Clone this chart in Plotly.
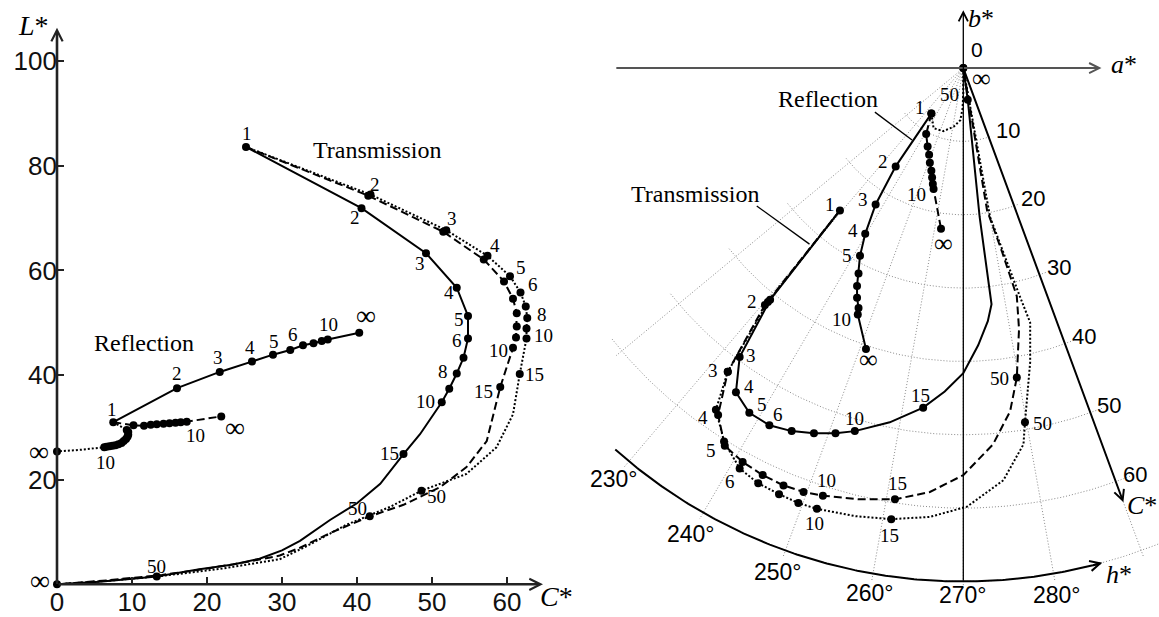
import numpy as np
import plotly.graph_objects as go

W, H = 1159, 617

# ================= LEFT PANEL DATA  (C*, L*) =================
# Transmission, solid
trans_solid_C = [25.2, 40.6, 49.2, 53.3, 54.8, 54.8, 54.2, 53.3, 52.3, 51.3, 48.4, 46.2, 43.1, 40.0, 36.4, 32.4,
                 30.0, 27.0, 23.5, 19.0, 13.3, 5.7, 0.0]
trans_solid_L = [83.6, 71.9, 63.3, 56.7, 51.3, 47.0, 43.3, 40.3, 37.4, 34.8, 28.7, 24.9, 19.2, 15.5, 12.3, 8.3,
                 6.5, 4.9, 3.8, 2.9, 1.5, 0.5, 0.0]
trans_solid_marks = [0, 1, 2, 3, 4, 5, 6, 7, 8, 9, 11, 20, 22]
# Transmission, dashed
trans_dash_C = [25.2, 41.5, 51.5, 56.9, 59.6, 60.8, 61.3, 61.3, 61.2, 60.8, 59.1, 57.3, 54.6, 51.1, 46.2, 41.7,
                36.4, 32.4, 29.7, 25.0, 20.0, 14.0, 7.0, 0.0]
trans_dash_L = [83.6, 74.3, 67.4, 62.1, 57.9, 54.6, 51.8, 49.3, 47.2, 45.2, 37.7, 27.4, 22.4, 18.6, 15.2, 13.0,
                9.8, 7.0, 5.5, 4.2, 3.0, 1.8, 0.8, 0.0]
trans_dash_marks = [1, 2, 3, 4, 5, 6, 7, 8, 9, 10, 15]
# Transmission, dotted
trans_dot_C = [25.2, 41.8, 51.9, 57.4, 60.4, 61.8, 62.5, 62.7, 62.6, 62.6, 61.7, 60.8, 58.6, 54.6, 48.6, 44.4,
               38.6, 33.3, 29.7, 22.0, 14.0, 7.0, 0.0]
trans_dot_L = [83.6, 74.5, 67.7, 62.8, 58.9, 55.8, 53.1, 50.9, 48.9, 47.0, 40.2, 32.5, 26.2, 21.1, 17.9, 14.8,
               11.4, 7.3, 4.8, 3.0, 1.6, 0.7, 0.0]
trans_dot_marks = [1, 2, 3, 4, 5, 6, 7, 8, 9, 10, 14]

# Reflection
refl_solid_C = [7.5, 16.0, 21.7, 26.0, 28.8, 31.1, 32.8, 34.2, 35.3, 36.1, 40.3]
refl_solid_L = [31.0, 37.5, 40.6, 42.6, 43.9, 44.8, 45.7, 46.1, 46.5, 46.8, 48.1]
refl_dash_C = [7.5, 10.2, 11.6, 12.5, 13.3, 14.2, 15.0, 15.8, 16.5, 17.3, 21.9]
refl_dash_L = [31.0, 30.4, 30.3, 30.5, 30.6, 30.7, 30.8, 30.9, 31.0, 31.1, 32.1]
refl_dot_C = [7.5, 9.3, 9.5, 9.5, 9.4, 9.2, 8.9, 8.6, 8.2, 7.8, 7.4, 7.0, 6.6, 6.3, 3.0, 0.0]
refl_dot_L = [31.0, 29.5, 29.1, 28.6, 28.2, 27.8, 27.4, 27.0, 26.8, 26.6, 26.5, 26.4, 26.3, 26.2, 25.7, 25.4]
refl_dot_marks = [1, 2, 3, 4, 5, 6, 7, 8, 9, 10, 11, 12, 13, 15]

left_xticks = [0, 10, 20, 30, 40, 50, 60]
left_yticks = [20, 40, 60, 80, 100]

# point labels (text, C*, L*)
left_num_labels = [
    ("1", 25.3, 86.2), ("2", 39.7, 70.2), ("3", 48.4, 61.4), ("4", 52.2, 55.7), ("5", 53.6, 50.7),
    ("6", 53.3, 46.6), ("8", 51.5, 40.6), ("10", 49.1, 35.0), ("15", 44.3, 25.1), ("50", 13.3, 3.5),
    ("2", 42.4, 76.5), ("3", 52.6, 69.9), ("4", 58.4, 64.8), ("5", 61.8, 60.6), ("6", 63.5, 57.3),
    ("8", 64.6, 51.5), ("10", 64.8, 47.5), ("10", 58.8, 44.7), ("15", 56.9, 36.8), ("15", 63.7, 40.1),
    ("50", 40.0, 14.5), ("50", 50.6, 16.7),
    ("1", 7.3, 33.4), ("2", 16.0, 40.3), ("3", 21.5, 43.3), ("4", 25.7, 45.3), ("5", 28.9, 46.4),
    ("6", 31.5, 47.7), ("10", 36.2, 49.6), ("10", 18.4, 28.4), ("10", 6.5, 23.2),
]
left_inf_labels = [(-2.3, 0.7), (41.2, 51.3), (23.7, 29.9), (-2.4, 25.4)]
left_text_labels = [("Transmission", 42.6, 83.1), ("Reflection", 11.6, 46.2)]

# ================= RIGHT PANEL DATA  (a*, b*) =================
rt_solid_a = [-16.6, -26.0, -30.1, -30.6, -28.8, -26.1, -23.1, -20.1, -17.2, -14.6, -9.9, -5.4, -2.5, 0.0,
              2.0, 3.3, 3.8, 2.2, 0.6, 0.0]
rt_solid_b = [-19.4, -31.6, -39.4, -44.2, -47.0, -48.7, -49.5, -49.8, -49.8, -49.5, -48.3, -46.3, -44.1, -41.6,
              -37.8, -34.5, -32.2, -20.3, -4.3, 0.0]
rt_solid_marks = [0, 1, 2, 3, 4, 5, 6, 7, 8, 9, 11, 18, 19]
rt_dash_a = [-16.6, -26.7, -31.7, -33.0, -32.1, -29.7, -27.0, -24.2, -21.5, -18.9, -14.0, -9.2, -4.5, 0.0,
             4.0, 6.3, 7.2, 7.5, 7.2, 5.2, 3.2, 0.7, 0.0]
rt_dash_b = [-19.4, -32.3, -41.4, -47.3, -51.5, -53.7, -55.5, -56.9, -57.8, -58.3, -58.8, -58.8, -57.8, -55.5,
             -51.3, -46.8, -42.2, -35.6, -31.1, -25.0, -19.4, -4.4, 0.0]
rt_dash_marks = [1, 2, 3, 4, 5, 6, 7, 8, 9, 11, 16]
rt_dot_a = [-16.6, -26.3, -31.7, -33.3, -32.2, -30.1, -27.6, -24.8, -22.2, -19.7, -14.5, -9.7, -4.5, 0.5,
            5.4, 8.1, 8.3, 9.0, 9.0, 7.6, 3.6, 0.7, 0.0]
rt_dot_b = [-19.4, -31.9, -41.4, -46.6, -50.9, -54.6, -56.6, -58.1, -59.3, -60.1, -61.1, -61.5, -61.2, -59.8,
            -56.2, -51.3, -48.3, -40.1, -34.7, -31.1, -20.3, -4.4, 0.0]
rt_dot_marks = [1, 2, 3, 4, 5, 6, 7, 8, 9, 11, 16]

rr_solid_a = [-4.3, -9.1, -11.8, -13.2, -13.9, -14.1, -14.3, -14.3, -14.1, -14.2, -13.1]
rr_solid_b = [-6.2, -13.4, -18.6, -22.6, -25.6, -28.0, -29.7, -31.3, -32.7, -33.6, -38.3]
rr_dash_a = [-4.3, -5.0, -4.8, -4.6, -4.5, -4.3, -4.2, -4.1, -4.0, -3.0]
rr_dash_b = [-6.2, -9.0, -10.7, -11.8, -12.9, -14.0, -14.9, -15.8, -16.5, -21.9]
rr_dot_a = [-4.3, -4.0, -2.7, -1.3, -0.4, -0.1, 0.0, 0.0]
rr_dot_b = [-6.2, -8.2, -8.6, -8.0, -7.1, -5.5, -3.3, 0.0]
rr_dot_marks = [0, 7]

# polar grid definition
grid_hues = [220, 230, 240, 250, 260, 270, 280, 290]
grid_hue_cmax = [61, 71, 71, 71, 71, 71, 71, 71]
grid_chromas = [10, 20, 30, 40, 50, 60, 70]
grid_arc_h0 = [218, 218, 218, 218, 218, 218, 229]
grid_arc_h1 = [292, 292, 292, 292, 292, 292, 292]
hue_labels = [230, 240, 250, 260, 270, 280]
hue_label_radius = [73.1, 73.4, 73.1, 72.7, 71.9, 73.0]
chroma_labels = [10, 20, 30, 40, 50, 60]

right_num_labels = [
    ("1", -18.0, -18.6), ("2", -28.5, -31.8), ("3", -28.6, -39.2), ("4", -28.9, -43.4), ("5", -27.1, -45.9),
    ("6", -25.0, -47.2), ("10", -14.7, -47.8), ("15", -5.8, -44.6), ("50", -1.8, -3.6),
    ("3", -33.7, -41.2), ("4", -35.0, -47.7), ("5", -34.0, -52.2), ("6", -31.4, -56.4),
    ("10", -18.4, -56.2), ("10", -20.0, -62.1), ("15", -8.8, -56.7), ("15", -9.9, -63.8),
    ("50", 4.9, -42.3), ("50", 10.7, -48.4),
    ("1", -5.8, -5.4), ("2", -10.8, -12.7), ("3", -13.5, -17.9), ("4", -14.9, -22.1), ("5", -15.7, -25.5),
    ("10", -16.4, -34.3), ("10", -6.3, -17.2),
]
right_inf_labels = [(2.4, -1.4), (-12.7, -39.7), (-2.7, -23.9)]
right_text_labels = [("Transmission", -36.1, -17.2), ("Reflection", -18.2, -4.2)]
leader_reflection = [(-11.9, -6.0), (-6.9, -9.8)]
leader_transmission = [(-27.8, -18.8), (-20.7, -24.0)]

# ================= FIGURE =================
fig = go.Figure()
SERIF = "Liberation Serif"
SANS = "Liberation Sans"
DASH = "8px,4px"
DOT = "2px,2px"


def add_curve(xs, ys, dash, xa, ya, marks=None, width=2):
    fig.add_trace(go.Scatter(x=xs, y=ys, mode="lines", xaxis=xa, yaxis=ya,
                             line=dict(color="black", width=width, dash=dash), hoverinfo="skip"))
    if marks is None:
        marks = list(range(len(xs)))
    fig.add_trace(go.Scatter(x=[xs[i] for i in marks], y=[ys[i] for i in marks], mode="markers",
                             xaxis=xa, yaxis=ya, marker=dict(color="black", size=8), hoverinfo="skip"))


# ---- right panel grid ----
gx, gy = [], []
for h, cm in zip(grid_hues, grid_hue_cmax):
    t = np.radians(h)
    gx += [0, cm * np.cos(t), None]
    gy += [0, cm * np.sin(t), None]
for c, h0, h1 in zip(grid_chromas, grid_arc_h0, grid_arc_h1):
    t = np.radians(np.linspace(h0, h1, 120))
    gx += list(c * np.cos(t)) + [None]
    gy += list(c * np.sin(t)) + [None]
fig.add_trace(go.Scatter(x=gx, y=gy, mode="lines", xaxis="x2", yaxis="y2",
                         line=dict(color="#8a8a8a", width=1, dash="1px,2px"), hoverinfo="skip"))

# h* arc
t = np.radians(np.linspace(228, 285.3, 200))
fig.add_trace(go.Scatter(x=70 * np.cos(t), y=70 * np.sin(t), mode="lines", xaxis="x2", yaxis="y2",
                         line=dict(color="black", width=2), hoverinfo="skip"))

# ---- left curves ----
add_curve(trans_solid_C, trans_solid_L, "solid", "x", "y", trans_solid_marks)
add_curve(trans_dash_C, trans_dash_L, DASH, "x", "y", trans_dash_marks)
add_curve(trans_dot_C, trans_dot_L, DOT, "x", "y", trans_dot_marks)
add_curve(refl_solid_C, refl_solid_L, "solid", "x", "y")
add_curve(refl_dash_C, refl_dash_L, DASH, "x", "y", list(range(1, len(refl_dash_C))))
add_curve(refl_dot_C, refl_dot_L, DOT, "x", "y", refl_dot_marks)

# ---- right curves ----
add_curve(rt_solid_a, rt_solid_b, "solid", "x2", "y2", rt_solid_marks)
add_curve(rt_dash_a, rt_dash_b, DASH, "x2", "y2", rt_dash_marks)
add_curve(rt_dot_a, rt_dot_b, DOT, "x2", "y2", rt_dot_marks)
add_curve(rr_solid_a, rr_solid_b, "solid", "x2", "y2")
add_curve(rr_dash_a, rr_dash_b, DASH, "x2", "y2", list(range(1, len(rr_dash_a))))
add_curve(rr_dot_a, rr_dot_b, DOT, "x2", "y2", rr_dot_marks)

# leader lines
for seg in (leader_reflection, leader_transmission):
    fig.add_trace(go.Scatter(x=[p[0] for p in seg], y=[p[1] for p in seg], mode="lines", xaxis="x2",
                             yaxis="y2", line=dict(color="black", width=1.3), hoverinfo="skip"))

ann = []


def arrow(x0, y0, x1, y1, xr, yr, width, color, head=5, size=1.0):
    ann.append(dict(x=x1, y=y1, ax=x0, ay=y0, xref=xr, yref=yr, axref=xr, ayref=yr, showarrow=True,
                    arrowhead=head, arrowsize=size, arrowwidth=width, arrowcolor=color, text="",
                    standoff=0, startstandoff=0))


def label(text, x, y, xr, yr, size, family, **kw):
    d = dict(text=text, x=x, y=y, xref=xr, yref=yr, showarrow=False, xanchor="center", yanchor="middle",
             font=dict(size=size, family=family, color="black"))
    d.update(kw)
    ann.append(d)


# left axes
arrow(0, 0, 0, 106.4, "x", "y", 2.6, "#222", 5, 0.85)
arrow(0, 0, 64.8, 0, "x", "y", 2.6, "#222", 5, 0.85)
label("<i>L</i>*", -3.1, 106.8, "x", "y", 28, SERIF)
label("<i>C</i>*", 66.6, -2.4, "x", "y", 28, SERIF)
for txt, x, y in left_num_labels:
    label(txt, x, y, "x", "y", 19, SERIF)
for x, y in left_inf_labels:
    label("∞", x, y, "x", "y", 28, SERIF)
for txt, x, y in left_text_labels:
    label(txt, x, y, "x", "y", 24, SERIF)

# right axes
arrow(-46.9, 0, 18.6, 0, "x2", "y2", 2, "#555", 5, 1.0)
arrow(0, -70.1, 0, 7.9, "x2", "y2", 1.3, "black", 5, 1.4)
tc = np.radians(290)
arrow(0, 0, 63 * np.cos(tc), 63 * np.sin(tc), "x2", "y2", 2, "black", 5, 1.0)
th0, th1 = np.radians(284.3), np.radians(285.5)
arrow(70 * np.cos(th0), 70 * np.sin(th0), 70 * np.cos(th1), 70 * np.sin(th1), "x2", "y2", 2, "black", 5, 1.0)
label("0", 1.8, 2.5, "x2", "y2", 21, SANS)
label("<i>a</i>*", 21.6, 0.5, "x2", "y2", 26, SERIF)
label("<i>b</i>*", 2.4, 6.8, "x2", "y2", 26, SERIF)
label("<i>C</i>*", 24.0, -59.6, "x2", "y2", 26, SERIF)
label("<i>h</i>*", 20.9, -69.0, "x2", "y2", 26, SERIF)
for h, r in zip(hue_labels, hue_label_radius):
    t = np.radians(h)
    label(f"{h}°", r * np.cos(t), r * np.sin(t), "x2", "y2", 23, SANS)
for c in chroma_labels:
    label(str(c), c * np.cos(tc), c * np.sin(tc), "x2", "y2", 22, SANS, xshift=19, yshift=7)
for txt, x, y in right_num_labels:
    label(txt, x, y, "x2", "y2", 19, SERIF)
for x, y in right_inf_labels:
    label("∞", x, y, "x2", "y2", 26, SERIF)
for txt, x, y in right_text_labels:
    label(txt, x, y, "x2", "y2", 24, SERIF)

# axis geometry (pixel-calibrated)
Lx0, Lsx = 57, 7.5      # px of C*=0, px per unit
Ly0, Lsy = 592, 5.3     # px of L*=0, px per unit
Rx0, Ry0, Rs = 963.3, 69, 7.43
Lx_end = 575
Rx_start = 580

fig.update_layout(
    width=W, height=H, margin=dict(l=0, r=0, t=0, b=0), paper_bgcolor="white", plot_bgcolor="white",
    showlegend=False, annotations=ann,
    xaxis=dict(domain=[0, Lx_end / W], range=[(0 - Lx0) / Lsx, (Lx_end - Lx0) / Lsx], anchor="free",
               position=(H - Ly0) / H, showline=False, showgrid=False, zeroline=False,
               ticks="inside", ticklen=7, tickwidth=2, tickcolor="#222", tickvals=left_xticks,
               tickfont=dict(size=26, family=SANS, color="#111")),
    yaxis=dict(domain=[0, 1], range=[(Ly0 - H) / Lsy, Ly0 / Lsy], anchor="free", position=Lx0 / W,
               showline=False, showgrid=False, zeroline=False, ticks="inside", ticklen=6, tickwidth=2,
               tickcolor="#222", tickvals=left_yticks, tickfont=dict(size=26, family=SANS, color="#111")),
    xaxis2=dict(domain=[Rx_start / W, 1], range=[(Rx_start - Rx0) / Rs, (W - Rx0) / Rs], visible=False,
                anchor="y2"),
    yaxis2=dict(domain=[0, 1], range=[(Ry0 - H) / Rs, Ry0 / Rs], visible=False, anchor="x2"),
)

fig.write_html("out.html")
